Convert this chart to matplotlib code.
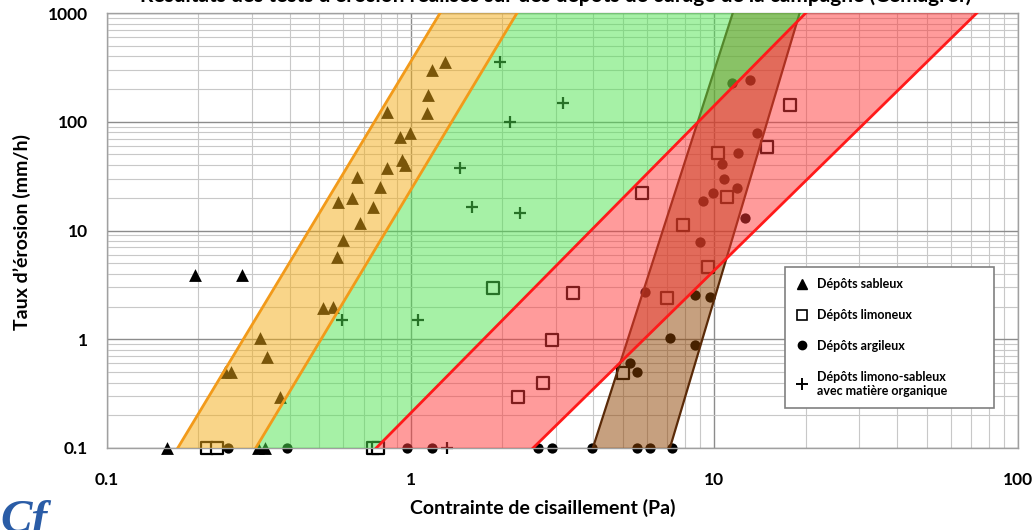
import matplotlib.pyplot as plt
from matplotlib.lines import Line2D
from matplotlib.ticker import FixedLocator, LogLocator, NullFormatter

plt.rcParams['font.family'] = ['Lato', 'DejaVu Sans']

# Dépôts sableux
sable_x = [1.30, 1.18, 1.14, 1.13, 0.835, 0.995, 0.922, 0.936, 0.958, 0.835,
           0.666, 0.792, 0.641, 0.576, 0.751, 0.681, 0.60, 0.572, 0.514, 0.555,
           0.319, 0.336, 0.245, 0.256, 0.371, 0.195, 0.278, 0.158, 0.314, 0.331]
sable_y = [354, 299, 176, 120, 123, 78.8, 72.4, 44.5, 40.0, 37.6,
           31.0, 25.1, 19.9, 18.3, 16.4, 11.7, 8.1, 5.7, 1.94, 1.98,
           1.03, 0.687, 0.5, 0.5, 0.294, 3.9, 3.9, 0.1, 0.1, 0.1]

# Dépôts limoneux
limon_x = [1.87, 3.42, 2.92, 2.73, 2.26, 5.0, 6.98, 9.53, 7.88, 5.78,
           10.3, 11.0, 14.9, 17.7, 0.214, 0.230, 0.752, 0.780]
limon_y = [2.96, 2.66, 0.984, 0.396, 0.294, 0.489, 2.39, 4.62, 11.2, 22.1,
           51.6, 20.3, 58.6, 143, 0.1, 0.1, 0.1, 0.1]

# Dépôts argileux
argile_x = [11.4, 13.1, 13.8, 12.0, 10.6, 10.75, 11.9, 9.9, 9.17, 12.6,
            8.97, 5.91, 8.63, 9.67, 7.14, 8.63, 5.27, 5.56,
            0.250, 0.391, 0.972, 1.18, 2.63, 2.92, 3.95, 5.56, 6.14, 7.25]
argile_y = [227, 242, 78.8, 51.6, 40.9, 29.8, 24.6, 22.1, 18.7, 13.0,
            7.84, 2.72, 2.55, 2.45, 1.03, 0.885, 0.605, 0.5,
            0.1, 0.1, 0.1, 0.1, 0.1, 0.1, 0.1, 0.1, 0.1, 0.1]

# Dépôts limono-sableux avec matière organique
organ_x = [1.97, 3.17, 2.12, 1.45, 1.59, 2.29, 0.594, 1.06, 1.32]
organ_y = [354, 149, 99.5, 37.6, 16.4, 14.5, 1.50, 1.50, 0.1]

# enveloppes : contrainte à 0.1 mm/h et à 1000 mm/h
y_ends = [0.1, 1000]
sable_left = [0.171, 1.25]
sable_right = [0.309, 2.24]
limon_left = [0.77, 20.0]
limon_right = [2.53, 73.2]
argile_left = [3.98, 11.5]
argile_right = [7.14, 19.1]


def band(ax, left, right, color, zorder):
    xs = [left[0], left[1], right[1], right[0]]
    ys = [y_ends[0], y_ends[1], y_ends[1], y_ends[0]]
    ax.fill(xs, ys, color=color, alpha=0.5, lw=0, zorder=zorder)


fig = plt.figure(figsize=(10.36, 5.30), dpi=100)
ax = fig.add_axes([107 / 1036, 82 / 530, 911 / 1036, 435 / 530])
ax.set_xscale('log')
ax.set_yscale('log')
ax.set_xlim(0.1, 100)
ax.set_ylim(0.1, 1000)

# points
pt = dict(clip_on=False, zorder=2)
ax.scatter(sable_x, sable_y, marker='^', s=85, color='black', lw=0, **pt)
ax.scatter(limon_x, limon_y, marker='s', s=64, facecolor='white',
           edgecolor='black', lw=1.6, **pt)
ax.scatter(argile_x, argile_y, marker='o', s=55, color='black', lw=0, **pt)
ax.scatter(organ_x, organ_y, marker='+', s=85, color='black', lw=1.6, **pt)

# enveloppes (argile d'abord, les autres par-dessus)
band(ax, argile_left, argile_right, '#8F4200', 3)
ax.plot(argile_left, y_ends, color='#5A2A08', lw=1.6, zorder=3)
ax.plot(argile_right, y_ends, color='#5A2A08', lw=1.6, zorder=3)

band(ax, sable_left, sable_right, '#F5AD14', 4)
band(ax, sable_right, limon_left, '#4EE44E', 4)
ax.plot(sable_left, y_ends, color='#F29A1A', lw=2, zorder=4.5)
ax.plot(sable_right, y_ends, color='#F29A1A', lw=2, zorder=4.5)

band(ax, limon_left, limon_right, '#FF3838', 5)
ax.plot(limon_left, y_ends, color='#FF1A1A', lw=2, zorder=5.5)
ax.plot(limon_right, y_ends, color='#FF1A1A', lw=2, zorder=5.5)

# grille
ax.xaxis.set_minor_locator(LogLocator(base=10, subs=range(2, 10)))
ax.yaxis.set_minor_locator(LogLocator(base=10, subs=range(2, 10)))
ax.xaxis.set_minor_formatter(NullFormatter())
ax.yaxis.set_minor_formatter(NullFormatter())
ax.grid(which='major', color='#8C8C8C', lw=1.0)
ax.grid(which='minor', color='#C8C8C8', lw=0.8)

xticks = [0.1, 1, 10, 100]
yticks = [0.1, 1, 10, 100, 1000]
ax.xaxis.set_major_locator(FixedLocator(xticks))
ax.yaxis.set_major_locator(FixedLocator(yticks))
ax.set_xticklabels(['0.1', '1', '10', '100'])
ax.set_yticklabels(['0.1', '1', '10', '100', '1000'])
ax.tick_params(which='both', length=0)
ax.tick_params(axis='x', pad=17, labelsize=12.5)
ax.tick_params(axis='y', pad=14, labelsize=12.5)
for lab in ax.get_xticklabels() + ax.get_yticklabels():
    lab.set_fontweight('bold')
for sp in ax.spines.values():
    sp.set_color('#A0A0A0')
    sp.set_linewidth(1)

fig.text(543 / 1036, 1 - 508 / 530, 'Contrainte de cisaillement (Pa)',
         ha='center', va='center', fontsize=14, fontweight='bold')
fig.text(22 / 1036, 1 - 232 / 530, "Taux d’érosion (mm/h)", rotation=90,
         ha='center', va='center', fontsize=14, fontweight='bold')

# titre, en partie hors cadre
fig.text(140 / 1036, 1 - 2 / 530,
         "Résultats des tests d’érosion réalisés sur des dépôts de curage de la campagne (Cemagref)",
         ha='left', va='baseline', fontsize=15, fontweight='bold')

# logo
fig.text(0.0, -12 / 530, 'Cf', ha='left', va='bottom', fontsize=34,
         family='Liberation Serif', style='italic', fontweight='bold',
         color='#2A5CA6')

handles = [
    Line2D([], [], marker='^', color='black', ls='none', ms=7),
    Line2D([], [], marker='s', mfc='white', mec='black', ls='none', ms=7, mew=1.2),
    Line2D([], [], marker='o', color='black', ls='none', ms=6),
    Line2D([], [], marker='+', color='black', ls='none', ms=8, mew=1.4),
]
labels = ['Dépôts sableux', 'Dépôts limoneux', 'Dépôts argileux',
          'Dépôts limono-sableux\navec matière organique']
leg = ax.legend(handles, labels, loc='upper left',
                bbox_to_anchor=(0.744, 0.416, 0.23, 0.0), mode='expand',
                borderaxespad=0, frameon=True, fancybox=False,
                edgecolor='#808080', framealpha=1, borderpad=0.9,
                labelspacing=1.5, handlelength=1.0, handletextpad=0.7,
                prop={'size': 9, 'weight': 'bold'})
leg.get_frame().set_linewidth(1.2)
leg.set_zorder(10)

fig.savefig('out.png', dpi=100)
